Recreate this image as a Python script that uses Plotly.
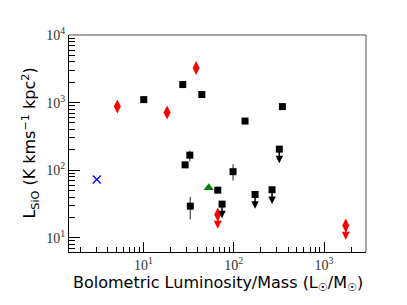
import numpy as np
import plotly.graph_objects as go

# ---- data ----
red_x = [5.15, 18.3, 38.4]
red_y = [873, 711, 3260]
red_lim_x = [66.6, 1742]
red_lim_y = [22.1, 15.2]

black_x = [10.1, 27.3, 44.4, 346, 133.6, 29.0]
black_y = [1107, 1849, 1316, 873, 533, 120]

black_err_x = [32.7, 33.1, 98.4]
black_err_y = [167, 29.4, 95.1]
black_err_plus = [29, 11, 27]
black_err_minus = [31, 10.7, 24.5]

black_lim_x = [320, 74.3, 172.6, 266, 66.7]
black_lim_y = [205, 31.5, 43.8, 51.4, 50.7]
black_lim_flag = [True, True, True, True, False]

green_x = [53]
green_y = [55]
blue_x = [3.05]
blue_y = [73]

x_major = [1, 2, 3]
y_major = [1, 2, 3, 4]
x_ticktext = ["10<sup>%d</sup>" % e for e in x_major]
y_ticktext = ["10<sup>%d</sup>" % e for e in y_major]

X_RANGE = [0.177, 3.465]
Y_RANGE = [0.79, 4.0]
ARROW_DEX = 0.21


def minor_ticks(lo, hi):
    vals = []
    for e in range(int(np.floor(lo)), int(np.ceil(hi)) + 1):
        for m in range(2, 10):
            v = m * 10.0 ** e
            if lo <= np.log10(v) <= hi:
                vals.append(v)
    return vals


fig = go.Figure()

fig.add_trace(go.Scatter(
    x=black_err_x, y=black_err_y, mode="markers",
    marker=dict(symbol="square", size=7, color="black"),
    error_y=dict(type="data", array=black_err_plus, arrayminus=black_err_minus,
                 color="#555555", thickness=1.3, width=0),
    showlegend=False))
fig.add_trace(go.Scatter(
    x=black_x, y=black_y, mode="markers",
    marker=dict(symbol="square", size=7, color="black"), showlegend=False))
fig.add_trace(go.Scatter(
    x=black_lim_x, y=black_lim_y, mode="markers",
    marker=dict(symbol="square", size=7, color="black"), showlegend=False))
fig.add_trace(go.Scatter(
    x=red_x, y=red_y, mode="markers",
    marker=dict(symbol="diamond-tall", size=10, color="red"), showlegend=False))
fig.add_trace(go.Scatter(
    x=red_lim_x, y=red_lim_y, mode="markers",
    marker=dict(symbol="diamond-tall", size=10, color="red"), showlegend=False))
fig.add_trace(go.Scatter(
    x=green_x, y=green_y, mode="markers",
    marker=dict(symbol="triangle-up", size=9, color="green"), showlegend=False))
fig.add_trace(go.Scatter(
    x=blue_x, y=blue_y, mode="markers",
    marker=dict(symbol="x-thin", size=8, line=dict(color="blue", width=1.3)),
    showlegend=False))
# empty trace so the minor-tick overlay axes are drawn
fig.add_trace(go.Scatter(x=[], y=[], xaxis="x2", yaxis="y2", showlegend=False,
                         hoverinfo="skip"))

annotations = []
for xv, yv, flag in zip(black_lim_x, black_lim_y, black_lim_flag):
    if not flag:
        continue
    annotations.append(dict(
        x=np.log10(xv), y=np.log10(yv) - ARROW_DEX, ax=np.log10(xv), ay=np.log10(yv),
        xref="x", yref="y", axref="x", ayref="y", text="", showarrow=True,
        arrowhead=2, arrowsize=1, arrowwidth=1.5, arrowcolor="black"))
for xv, yv in zip(red_lim_x, red_lim_y):
    annotations.append(dict(
        x=np.log10(xv), y=np.log10(yv) - ARROW_DEX, ax=np.log10(xv), ay=np.log10(yv),
        xref="x", yref="y", axref="x", ayref="y", text="", showarrow=True,
        arrowhead=2, arrowsize=1, arrowwidth=1.6, arrowcolor="red"))

titlefont = dict(family="DejaVu Sans", size=16, color="black")
annotations.append(dict(
    text="Bolometric Luminosity/Mass (L<sub>☉</sub>/M<sub>☉</sub>)",
    xref="paper", yref="paper", x=0.5, y=-0.143, xanchor="center", yanchor="middle",
    showarrow=False, font=titlefont))
annotations.append(dict(
    text="L<sub>SiO</sub> (K kms<sup>−1</sup> kpc<sup>2</sup>)",
    xref="paper", yref="paper", x=-0.131, y=0.5, xanchor="center", yanchor="middle",
    textangle=-90, showarrow=False, font=titlefont))

tickfont = dict(family="Liberation Serif", size=14, color="#333333")

fig.update_layout(
    width=399, height=297,
    margin=dict(l=61, r=41, t=27, b=53, autoexpand=False),
    plot_bgcolor="white", paper_bgcolor="white",
    annotations=annotations,
    xaxis=dict(type="log", range=X_RANGE, tickmode="array",
               tickvals=[10.0 ** e for e in x_major], ticktext=x_ticktext,
               ticks="inside", ticklen=10, tickwidth=1, tickcolor="black",
               showgrid=False, zeroline=False, showline=True, linecolor="black",
               linewidth=1, tickfont=tickfont, automargin=False),
    yaxis=dict(type="log", range=Y_RANGE, tickmode="array",
               tickvals=[10.0 ** e for e in y_major], ticktext=y_ticktext,
               ticks="inside", ticklen=11, tickwidth=1, tickcolor="black",
               showgrid=False, zeroline=False, showline=True, linecolor="black",
               linewidth=1, tickfont=tickfont, automargin=False),
    xaxis2=dict(type="log", range=X_RANGE, overlaying="x", anchor="y2", side="bottom",
                tickmode="array", tickvals=minor_ticks(*X_RANGE),
                ticks="inside", ticklen=5, tickwidth=1, tickcolor="black",
                showticklabels=False, showgrid=False, zeroline=False, showline=False),
    yaxis2=dict(type="log", range=Y_RANGE, overlaying="y", anchor="x2", side="left",
                tickmode="array", tickvals=minor_ticks(*Y_RANGE),
                ticks="inside", ticklen=6, tickwidth=1, tickcolor="black",
                showticklabels=False, showgrid=False, zeroline=False, showline=False),
    shapes=[
        dict(type="line", xref="paper", yref="paper", x0=0, x1=1, y0=1, y1=1,
             line=dict(color="#888888", width=1.5)),
        dict(type="line", xref="paper", yref="paper", x0=1, x1=1, y0=0, y1=1,
             line=dict(color="#888888", width=1.5)),
    ],
)

fig.write_html("out.html")
